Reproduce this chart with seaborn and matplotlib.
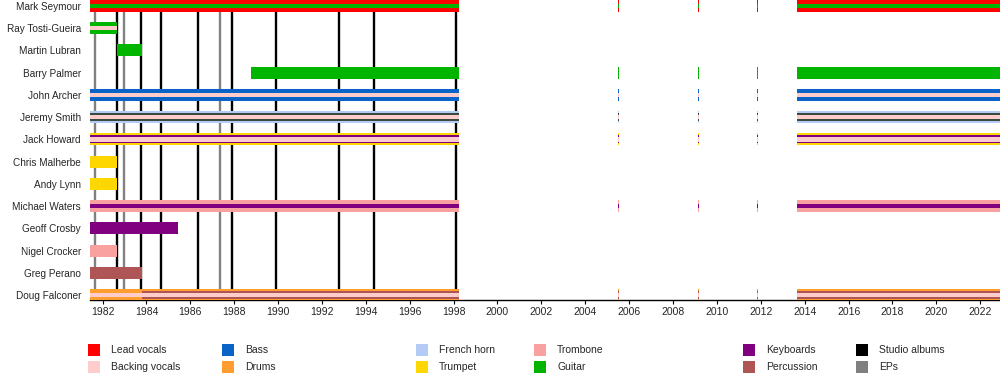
import matplotlib
matplotlib.use("Agg")
import matplotlib.pyplot as plt
import pandas as pd
import seaborn as sns
from matplotlib.patches import Rectangle

# timeline bounds (years)
START = 1981.43
SPLIT = 1998.24
END = 2022.9

MEMBERS = [
    "Mark Seymour", "Ray Tosti-Gueira", "Martin Lubran", "Barry Palmer",
    "John Archer", "Jeremy Smith", "Jack Howard", "Chris Malherbe",
    "Andy Lynn", "Michael Waters", "Geoff Crosby", "Nigel Crocker",
    "Greg Perano", "Doug Falconer",
]

# reunion gigs and the later reformation
REUNIONS = [(2005.47, 2005.52), (2009.12, 2009.17), (2011.81, 2011.86), (2013.65, END)]

# roles listed from outer band to inner stripe
ROLES = {
    "Mark Seymour": ["Lead vocals", "Guitar"],
    "Ray Tosti-Gueira": ["Guitar", "Backing vocals"],
    "Martin Lubran": ["Guitar"],
    "Barry Palmer": ["Guitar"],
    "John Archer": ["Bass", "Backing vocals"],
    "Jeremy Smith": ["French horn", "Other", "Backing vocals"],
    "Jack Howard": ["Trumpet", "Keyboards", "Backing vocals"],
    "Chris Malherbe": ["Trumpet"],
    "Andy Lynn": ["Trumpet"],
    "Michael Waters": ["Trombone", "Keyboards"],
    "Geoff Crosby": ["Keyboards"],
    "Nigel Crocker": ["Trombone"],
    "Greg Perano": ["Percussion"],
    "Doug Falconer": ["Drums", "Percussion", "Backing vocals"],
}

# (member, start, end) stints of the first run
STINTS = [
    ("Mark Seymour", START, SPLIT),
    ("Ray Tosti-Gueira", START, 1982.64),
    ("Martin Lubran", 1982.64, 1983.8),
    ("Barry Palmer", 1988.77, SPLIT),
    ("John Archer", START, SPLIT),
    ("Jeremy Smith", START, SPLIT),
    ("Jack Howard", START, SPLIT),
    ("Chris Malherbe", START, 1982.64),
    ("Andy Lynn", START, 1982.64),
    ("Michael Waters", START, SPLIT),
    ("Geoff Crosby", START, 1985.45),
    ("Nigel Crocker", START, 1982.64),
    ("Greg Perano", START, 1983.8),
    ("Doug Falconer", START, 1983.8),
    ("Doug Falconer", 1983.8, SPLIT),
]
DOUG_EARLY_ROLES = ["Drums", "Backing vocals"]

REUNION_MEMBERS = ["Mark Seymour", "Barry Palmer", "John Archer", "Jeremy Smith",
                   "Jack Howard", "Michael Waters", "Doug Falconer"]

STUDIO_ALBUMS = [1982.64, 1983.74, 1984.65, 1986.33, 1987.91, 1989.89, 1992.77, 1994.37, 1998.1]
EPS = [1981.65, 1982.96, 1987.34]

COLORS = {
    "Lead vocals": "#FF0000",
    "Backing vocals": "#FFCCCC",
    "Bass": "#0A64C8",
    "Drums": "#FF9E2E",
    "French horn": "#B4CCF5",
    "Trumpet": "#FFD700",
    "Trombone": "#F9A0A0",
    "Guitar": "#00B400",
    "Keyboards": "#800080",
    "Percussion": "#B05555",
    "Studio albums": "#000000",
    "EPs": "#808080",
    "Other": "#3C4A3C",
}

LEGEND_COLUMNS = [
    ["Lead vocals", "Backing vocals"],
    ["Bass", "Drums"],
    ["French horn", "Trumpet"],
    ["Trombone", "Guitar"],
    ["Keyboards", "Percussion"],
    ["Studio albums", "EPs"],
]

ROW_PX = 22.23
LAYER_PX = {1: [12], 2: [12, 4.5], 3: [12, 8, 4.5]}


def build_segments() -> pd.DataFrame:
    rows = []
    for member, start, end in STINTS:
        roles = ROLES[member]
        if member == "Doug Falconer" and start == START:
            roles = DOUG_EARLY_ROLES
        rows.append({"member": member, "start": start, "end": end, "roles": roles})
    for member in REUNION_MEMBERS:
        for start, end in REUNIONS:
            rows.append({"member": member, "start": start, "end": end, "roles": ROLES[member]})
    return pd.DataFrame(rows)


def main() -> None:
    sns.set_theme(style="white")
    plt.rcParams["font.family"] = ["Liberation Sans", "DejaVu Sans"]

    fig = plt.figure(figsize=(10, 3.8), dpi=100)
    ax = fig.add_axes([0.09, 80 / 380, 0.91, 300 / 380])

    segments = build_segments()
    ypos = {m: i for i, m in enumerate(MEMBERS)}

    for _, seg in segments.iterrows():
        widths = LAYER_PX[len(seg["roles"])]
        for role, px in zip(seg["roles"], widths):
            ax.barh(ypos[seg["member"]], seg["end"] - seg["start"], left=seg["start"],
                    height=px / ROW_PX, color=COLORS[role], linewidth=0, zorder=3)

    ax.vlines(STUDIO_ALBUMS, -0.5, len(MEMBERS), color=COLORS["Studio albums"], linewidth=1.7, zorder=1)
    ax.vlines(EPS, -0.5, len(MEMBERS), color=COLORS["EPs"], linewidth=1.7, zorder=1)

    ax.set_xlim(START, END)
    ax.set_ylim(13 + 5 / ROW_PX, -6 / ROW_PX)
    ax.set_yticks(range(len(MEMBERS)))
    ax.set_yticklabels(MEMBERS)
    ax.set_xticks(range(1982, 2023, 2))
    ax.tick_params(axis="y", length=0, pad=6.5, labelsize=7.2)
    ax.tick_params(axis="x", length=3, width=0.8, direction="out", pad=2, labelsize=7.5, bottom=True, color="black")
    for side in ["top", "left", "right"]:
        ax.spines[side].set_visible(False)
    ax.spines["bottom"].set_color("black")
    ax.spines["bottom"].set_linewidth(1.0)
    ax.grid(False)

    col_x = [88, 222, 416, 534, 743, 856]
    row_y = [350, 367]
    for x, labels in zip(col_x, LEGEND_COLUMNS):
        for y, label in zip(row_y, labels):
            fig.add_artist(Rectangle((x / 1000, 1 - (y + 6) / 380), 12 / 1000, 12 / 380,
                                     transform=fig.transFigure, color=COLORS[label], linewidth=0))
            fig.text((x + 23) / 1000, 1 - y / 380, label, fontsize=7.5, va="center", ha="left")

    fig.savefig("out.png", dpi=100)
    plt.close(fig)


if __name__ == "__main__":
    main()
